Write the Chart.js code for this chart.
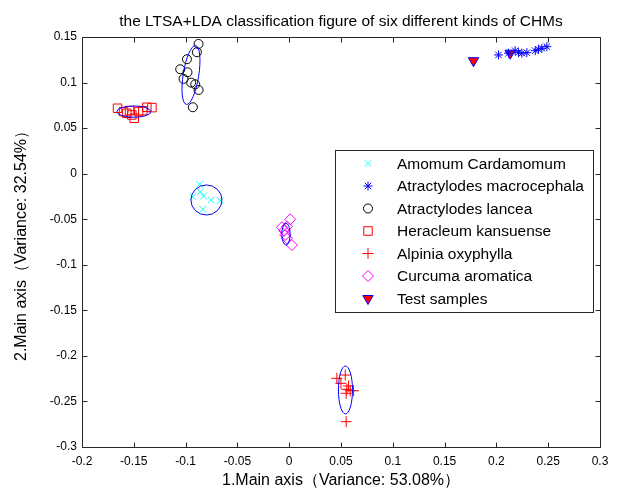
<!DOCTYPE html>
<html>
<head>
<meta charset="utf-8">
<script src="https://cdn.jsdelivr.net/npm/chart.js@4.4.1/dist/chart.umd.min.js"></script>
<style>
html, body { margin: 0; padding: 0; background: #fff; }
</style>
</head>
<body>
<canvas id="ltsaChart" width="621" height="491"></canvas>
<script>
var chartTitle = 'the LTSA+LDA classification figure of six different kinds of CHMs';
var xAxisTitle = '1.Main axis（Variance: 53.08%）';
var yAxisTitle = '2.Main axis（Variance: 32.54%）';

var xTicks = [-0.2, -0.15, -0.1, -0.05, 0, 0.05, 0.1, 0.15, 0.2, 0.25, 0.3];
var yTicks = [-0.3, -0.25, -0.2, -0.15, -0.1, -0.05, 0, 0.05, 0.1, 0.15];

var groupNames = ['Amomum Cardamomum', 'Atractylodes macrocephala', 'Atractylodes lancea',
    'Heracleum kansuense', 'Alpinia oxyphylla', 'Curcuma aromatica', 'Test samples'];

// projected sample coordinates for each kind of CHM
var amomumX = [-0.0866, -0.0930, -0.0827, -0.0753, -0.0666, -0.0833, -0.0859];
var amomumY = [-0.0116, -0.0252, -0.0245, -0.0289, -0.0296, -0.0391, -0.0198];

var macroX = [0.2020, 0.2117, 0.2181, 0.2213, 0.2246, 0.2294, 0.2375, 0.2406, 0.2439, 0.2487];
var macroY = [0.1303, 0.1322, 0.1350, 0.1328, 0.1322, 0.1328, 0.1350, 0.1366, 0.1376, 0.1394];

var lanceaX = [-0.0875, -0.0891, -0.0987, -0.1052, -0.0982, -0.1020, -0.0946, -0.0907, -0.0875, -0.0930];
var lanceaY = [0.1424, 0.1333, 0.1256, 0.1146, 0.1113, 0.1040, 0.0999, 0.0981, 0.0919, 0.0729];

var heracleumX = [-0.1657, -0.1599, -0.1541, -0.1519, -0.1496, -0.1567, -0.1454, -0.1413, -0.1374, -0.1325];
var heracleumY = [0.0718, 0.0681, 0.0692, 0.0644, 0.0608, 0.0663, 0.0681, 0.0692, 0.0729, 0.0725];

var alpiniaX = [0.0541, 0.0460, 0.0499, 0.0573, 0.0557, 0.0589, 0.0621, 0.0550, 0.0550];
var alpiniaY = [-0.2210, -0.2246, -0.2301, -0.2330, -0.2367, -0.2382, -0.2382, -0.2411, -0.2722];

var curcumaX = [0.0010, -0.0022, -0.0070, -0.0048, -0.0039, -0.0022, 0.0026];
var curcumaY = [-0.0501, -0.0582, -0.0588, -0.0626, -0.0673, -0.0709, -0.0783];

var testX = [0.1779, 0.2133];
var testY = [0.1240, 0.1322];

// class ellipses: centre, semi axes (data units) and tilt in degrees
var ellipseCx = [-0.0799, -0.0948, -0.1499, 0.0543, -0.0031];
var ellipseCy = [-0.0289, 0.1083, 0.0681, -0.2374, -0.0664];
var ellipseRx = [0.0150, 0.0075, 0.0164, 0.0068, 0.0040];
var ellipseRy = [0.0165, 0.0327, 0.0062, 0.0263, 0.0119];
var ellipseTilt = [0, 9, 0, 0, 0];

function toPoints(xs, ys) {
    return xs.map(function (x, i) { return { x: x, y: ys[i] }; });
}

function fmtTick(v) {
    return String(Math.round(v * 100) / 100);
}

var FONT = '"Liberation Sans", Arial, sans-serif';
Chart.defaults.font.family = FONT;
Chart.defaults.color = '#000';

var ellipsePlugin = {
    id: 'classEllipses',
    afterDatasetsDraw: function (chart) {
        var ctx = chart.ctx, xs = chart.scales.x, ys = chart.scales.y;
        ctx.save();
        ctx.strokeStyle = '#0000ff';
        ctx.lineWidth = 1;
        for (var i = 0; i < ellipseCx.length; i++) {
            var cx = xs.getPixelForValue(ellipseCx[i]);
            var cy = ys.getPixelForValue(ellipseCy[i]);
            var rx = Math.abs(xs.getPixelForValue(ellipseCx[i] + ellipseRx[i]) - cx);
            var ry = Math.abs(ys.getPixelForValue(ellipseCy[i] + ellipseRy[i]) - cy);
            ctx.beginPath();
            ctx.ellipse(cx, cy, rx, ry, ellipseTilt[i] * Math.PI / 180, 0, 2 * Math.PI);
            ctx.stroke();
        }
        ctx.restore();
    }
};

// box around the axes with tick marks pointing inwards on all four sides
var framePlugin = {
    id: 'axesFrame',
    afterDraw: function (chart) {
        var ctx = chart.ctx, a = chart.chartArea;
        var xs = chart.scales.x, ys = chart.scales.y;
        var L = Math.round(a.left) + 0.5, R = Math.round(a.right) + 0.5;
        var T = Math.round(a.top) + 0.5, B = Math.round(a.bottom) + 0.5;
        var len = 5;
        ctx.save();
        ctx.strokeStyle = '#262626';
        ctx.lineWidth = 1;
        ctx.beginPath();
        ctx.rect(L, T, R - L, B - T);
        xs.ticks.forEach(function (t) {
            var px = Math.round(xs.getPixelForValue(t.value)) + 0.5;
            ctx.moveTo(px, B); ctx.lineTo(px, B - len);
            ctx.moveTo(px, T); ctx.lineTo(px, T + len);
        });
        ys.ticks.forEach(function (t) {
            var py = Math.round(ys.getPixelForValue(t.value)) + 0.5;
            ctx.moveTo(L, py); ctx.lineTo(L + len, py);
            ctx.moveTo(R, py); ctx.lineTo(R - len, py);
        });
        ctx.stroke();
        ctx.restore();
    }
};

// legend box placed inside the axes, markers drawn from the dataset styles
var boxLegendPlugin = {
    id: 'boxLegend',
    afterDraw: function (chart, args, opts) {
        var ctx = chart.ctx;
        ctx.save();
        ctx.fillStyle = '#fff';
        ctx.fillRect(opts.left, opts.top, opts.width, opts.height);
        ctx.strokeStyle = '#262626';
        ctx.lineWidth = 1;
        ctx.strokeRect(opts.left + 0.5, opts.top + 0.5, opts.width, opts.height);
        ctx.font = opts.fontSize + 'px ' + FONT;
        ctx.textBaseline = 'middle';
        chart.data.datasets.forEach(function (ds, i) {
            var y = opts.top + opts.firstRow + i * opts.rowGap;
            ctx.strokeStyle = ds.pointBorderColor;
            ctx.fillStyle = ds.pointBackgroundColor;
            ctx.lineWidth = ds.pointBorderWidth;
            Chart.helpers.drawPoint(ctx, {
                pointStyle: ds.pointStyle,
                rotation: ds.pointRotation || 0,
                radius: ds.pointRadius,
                borderWidth: ds.pointBorderWidth
            }, opts.markerX, y);
            ctx.fillStyle = '#000';
            ctx.fillText(ds.label, opts.textX, y + 1);
        });
        ctx.restore();
    }
};

function series(label, xs, ys, style, radius, stroke, fill, rotation) {
    return {
        label: label,
        data: toPoints(xs, ys),
        showLine: false,
        pointStyle: style,
        pointRadius: radius,
        pointRotation: rotation || 0,
        pointBorderColor: stroke,
        pointBackgroundColor: fill,
        pointBorderWidth: 1
    };
}

var ctx = document.getElementById('ltsaChart').getContext('2d');
var ltsaChart = new Chart(ctx, {
    type: 'scatter',
    data: {
        datasets: [
            series(groupNames[0], amomumX, amomumY, 'crossRot', 4.5, '#00ffff', 'rgba(0,0,0,0)'),
            series(groupNames[1], macroX, macroY, 'star', 4.5, '#0000ff', 'rgba(0,0,0,0)'),
            series(groupNames[2], lanceaX, lanceaY, 'circle', 4.5, '#000000', 'rgba(0,0,0,0)'),
            series(groupNames[3], heracleumX, heracleumY, 'rect', 6, '#ff0000', 'rgba(0,0,0,0)'),
            series(groupNames[4], alpiniaX, alpiniaY, 'cross', 5.5, '#ff0000', 'rgba(0,0,0,0)'),
            series(groupNames[5], curcumaX, curcumaY, 'rectRot', 5.5, '#ff00ff', 'rgba(0,0,0,0)'),
            series(groupNames[6], testX, testY, 'triangle', 6, '#0000ff', '#ff0000', 180)
        ]
    },
    options: {
        responsive: false,
        animation: false,
        events: [],
        layout: { padding: { left: 0, right: 21, top: 0, bottom: 0 } },
        scales: {
            x: {
                type: 'linear',
                min: -0.2,
                max: 0.3,
                afterBuildTicks: function (s) { s.ticks = xTicks.map(function (v) { return { value: v }; }); },
                afterFit: function (s) { s.height = 44; },
                grid: { display: false, drawTicks: false },
                border: { display: false },
                ticks: { callback: fmtTick, font: { size: 12 }, padding: 7, maxRotation: 0, autoSkip: false },
                title: { display: true, text: xAxisTitle, font: { size: 16 }, padding: { top: 0, bottom: 1 } }
            },
            y: {
                type: 'linear',
                min: -0.3,
                max: 0.15,
                afterBuildTicks: function (s) { s.ticks = yTicks.map(function (v) { return { value: v }; }); },
                afterFit: function (s) { s.width = 82; },
                grid: { display: false, drawTicks: false },
                border: { display: false },
                ticks: { callback: fmtTick, font: { size: 12 }, padding: 5, autoSkip: false },
                title: { display: true, text: yAxisTitle, font: { size: 16 }, padding: { top: 12, bottom: 0 } }
            }
        },
        plugins: {
            legend: { display: false },
            tooltip: { enabled: false },
            title: {
                display: true,
                fullSize: false,
                text: chartTitle,
                color: '#000',
                font: { size: 15.5, weight: 'normal' },
                padding: { top: 12, bottom: 6.4 }
            },
            boxLegend: {
                left: 335, top: 150, width: 258, height: 162,
                firstRow: 13.5, rowGap: 22.5,
                markerX: 368, textX: 397, fontSize: 15.5
            }
        }
    },
    plugins: [ellipsePlugin, framePlugin, boxLegendPlugin]
});
</script>
</body>
</html>
